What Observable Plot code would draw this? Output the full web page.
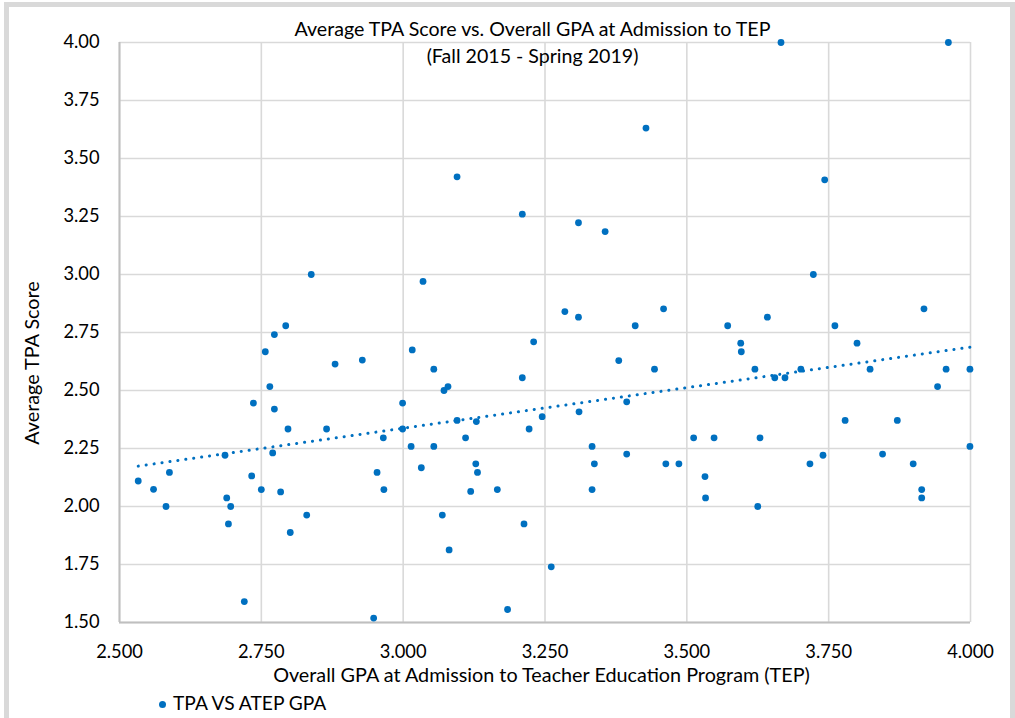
<!DOCTYPE html>
<html>
<head>
<meta charset="utf-8">
<script src="https://cdn.jsdelivr.net/npm/d3@7"></script>
<script src="https://cdn.jsdelivr.net/npm/@observablehq/plot@0.6"></script>
<style>
  body { margin: 0; background: #fff; font-family: Lato, "Open Sans", sans-serif; }
  #wrap { position: relative; width: 1015px; height: 718px; overflow: hidden; }
  #frame { position: absolute; left: 4px; top: 2px; width: 1011px; height: 730px; box-sizing: border-box;
           border: 5px solid #d9d9d9; }
  #chart { position: absolute; left: 0; top: 0; }
  .t { position: absolute; color: #000; white-space: nowrap; line-height: 1; }
</style>
</head>
<body>
<div id="wrap">
  <div id="frame"></div>
  <div id="chart"></div>
  <div class="t" id="title" style="left:0;width:1065px;text-align:center;top:19px;font-size:19.6px;">Average TPA Score vs. Overall GPA at Admission to TEP</div>
  <div class="t" id="subtitle" style="left:0;width:1065px;text-align:center;top:46px;font-size:19.6px;">(Fall 2015 - Spring 2019)</div>
  <div class="t" id="xtitle" style="left:0;width:1083px;text-align:center;top:665px;font-size:19.8px;">Overall GPA at Admission to Teacher Education Program (TEP)</div>
  <div class="t" id="ytitle" style="left:32px;top:363px;font-size:19.8px;transform:translate(-50%,-50%) rotate(-90deg);">Average TPA Score</div>
  <div class="t" id="legend" style="left:159px;top:693px;font-size:19.2px;"><span style="display:inline-block;width:7px;height:7px;border-radius:50%;background:#0070C0;vertical-align:middle;margin-right:7px;position:relative;top:-1px;"></span>TPA VS ATEP GPA</div>
</div>
<script>
// Overall GPA at admission to TEP
const gpa = [
  2.533, 2.560, 2.582, 2.588, 2.686, 2.689, 2.696, 2.692, 2.720, 2.733,
  2.736, 2.750, 2.757, 2.765, 2.773, 2.773, 2.770, 2.784, 2.793, 2.797,
  2.801, 2.830, 2.838, 2.865, 2.880, 2.928, 2.948, 2.954, 2.965, 2.966,
  2.999, 2.999, 3.014, 3.016, 3.032, 3.035, 3.054, 3.054, 3.069, 3.072,
  3.079, 3.081, 3.095, 3.095, 3.110, 3.119, 3.128, 3.129, 3.131, 3.166,
  3.184, 3.210, 3.210, 3.213, 3.222, 3.230, 3.245, 3.261, 3.285, 3.309,
  3.309, 3.356, 3.409, 3.428, 3.459, 3.310, 3.333, 3.337, 3.333, 3.380,
  3.394, 3.394, 3.443, 3.463, 3.486, 3.512, 3.548, 3.532, 3.533, 3.572,
  3.595, 3.596, 3.620, 3.625, 3.629, 3.642, 3.655, 3.673, 3.701, 3.666,
  3.717, 3.723, 3.740, 3.743, 3.761, 3.779, 3.800, 3.823, 3.845, 3.871,
  3.899, 3.914, 3.914, 3.918, 3.942, 3.957, 3.961, 3.999, 3.999
];
// Average TPA score
const tpa = [
  2.110, 2.074, 2.000, 2.147, 2.221, 2.037, 2.000, 1.925, 1.590, 2.132,
  2.446, 2.073, 2.667, 2.517, 2.420, 2.741, 2.231, 2.063, 2.779, 2.334,
  1.888, 1.963, 3.000, 2.334, 2.614, 2.631, 1.519, 2.147, 2.296, 2.073,
  2.446, 2.334, 2.259, 2.675, 2.167, 2.970, 2.592, 2.259, 1.963, 2.500,
  2.517, 1.813, 2.371, 3.421, 2.296, 2.065, 2.184, 2.366, 2.147, 2.073,
  1.556, 3.260, 2.555, 1.925, 2.334, 2.710, 2.387, 1.740, 2.840, 2.816,
  3.223, 3.185, 2.779, 3.631, 2.852, 2.408, 2.259, 2.184, 2.073, 2.629,
  2.451, 2.226, 2.592, 2.184, 2.184, 2.296, 2.296, 2.129, 2.037, 2.779,
  2.704, 2.667, 2.592, 2.000, 2.296, 2.816, 2.555, 2.555, 2.592, 4.000,
  2.184, 3.000, 2.221, 3.408, 2.779, 2.371, 2.704, 2.592, 2.226, 2.371,
  2.184, 2.073, 2.037, 2.852, 2.517, 2.592, 4.000, 2.592, 2.259
];
const xTicks = [2.5, 2.75, 3.0, 3.25, 3.5, 3.75, 4.0];
const yTicks = [1.5, 1.75, 2.0, 2.25, 2.5, 2.75, 3.0, 3.25, 3.5, 3.75, 4.0];
const xDomain = [2.5, 4.0];
const yDomain = [1.5, 4.0];

const data = gpa.map((g, i) => ({gpa: g, tpa: tpa[i]}));
const blue = "#0070C0";

const chart = Plot.plot({
  width: 1015,
  height: 718,
  marginLeft: 119,
  marginRight: 45,
  marginTop: 42,
  marginBottom: 96,
  style: {fontFamily: "Lato, 'Open Sans', sans-serif", fontSize: "18.3px", color: "#000", background: "transparent"},
  x: {domain: xDomain, ticks: xTicks, tickFormat: d3.format(".3f"), label: null},
  y: {domain: yDomain, ticks: yTicks, tickFormat: d3.format(".2f"), label: null},
  marks: [
    Plot.gridX(xTicks, {stroke: "#d9d9d9", strokeOpacity: 1, strokeWidth: 1.6}),
    Plot.gridY(yTicks, {stroke: "#d9d9d9", strokeOpacity: 1, strokeWidth: 1.6}),
    Plot.ruleX([xDomain[0]], {stroke: "#bfbfbf", strokeWidth: 2}),
    Plot.ruleY([yDomain[0]], {stroke: "#bfbfbf", strokeWidth: 2}),
    Plot.axisX({ticks: xTicks, tickSize: 0, tickPadding: 22, label: null, tickFormat: d3.format(".3f")}),
    Plot.axisY({ticks: yTicks, tickSize: 0, tickPadding: 20, label: null, tickFormat: d3.format(".2f")}),
    Plot.linearRegressionY(data, {x: "gpa", y: "tpa", ci: 0, stroke: blue, strokeWidth: 3,
      strokeDasharray: "0.1 7.9", strokeLinecap: "round"}),
    Plot.dot(data, {x: "gpa", y: "tpa", r: 3.4, fill: blue, stroke: "none"})
  ]
});
document.getElementById("chart").appendChild(chart);
</script>
</body>
</html>
